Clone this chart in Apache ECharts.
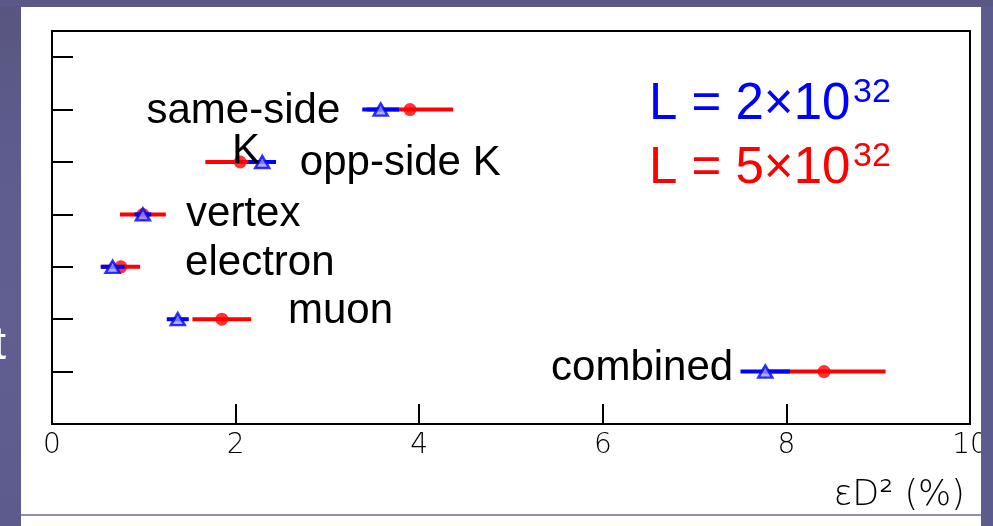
<!DOCTYPE html>
<html>
<head>
<meta charset="utf-8">
<script src="https://cdn.jsdelivr.net/npm/echarts@6/dist/echarts.min.js"></script>
<style>
  html, body { margin: 0; padding: 0; background: #5c5a8c; }
  #chart { width: 993px; height: 526px; }
</style>
</head>
<body>
<div id="chart"></div>
<script>
// Tagging methods, one row each (bottom to top)
const categories = ['combined', 'muon', 'electron', 'vertex', 'opp-side K', 'same-side K'];
const rowY = [1, 2, 3, 4, 5, 6];

// εD² (%) at L = 2×10^32 (blue) and L = 5×10^32 (red)
const lowLumiValue  = [7.77, 1.37, 0.66, 0.99, 2.29, 3.58];
const lowLumiError  = [0.27, 0.12, 0.13, 0.09, 0.15, 0.20];
const highLumiValue = [8.41, 1.85, 0.75, 0.99, 2.05, 3.90];
const highLumiError = [0.67, 0.32, 0.21, 0.25, 0.38, 0.47];

// Axis ticks
const xTicks = [0, 2, 4, 6, 8, 10];

// Method names written inside the frame, anchored in axis units
const noteText  = ['same-side', 'K', 'opp-side K', 'vertex', 'electron', 'muon', 'combined'];
const noteX     = [3.14, 1.96, 2.70, 1.46, 1.45, 2.57, 7.42];
const noteY     = [5.97, 5.21, 4.98, 4.00, 3.07, 2.15, 1.07];
const noteAlign = ['right', 'left', 'left', 'left', 'left', 'left', 'right'];

const BLUE = '#0000ff';
const RED = '#ff0000';
const FONT = '"Liberation Sans", Arial, sans-serif';

const chart = echarts.init(document.getElementById('chart'));

function errorBars(name, values, errors, color, z) {
  return {
    name: name,
    type: 'custom',
    z: z,
    silent: true,
    data: values.map((v, i) => [v - errors[i], v + errors[i], rowY[i]]),
    encode: { x: [0, 1], y: 2 },
    renderItem: function (params, api) {
      const a = api.coord([api.value(0), api.value(2)]);
      const b = api.coord([api.value(1), api.value(2)]);
      return {
        type: 'line',
        shape: { x1: a[0], y1: a[1], x2: b[0], y2: b[1] },
        style: { stroke: color, lineWidth: 4 }
      };
    }
  };
}

function markers(name, values, symbol, size, style, z) {
  return {
    name: name,
    type: 'scatter',
    z: z,
    silent: true,
    symbol: symbol,
    symbolSize: size,
    itemStyle: style,
    data: values.map((v, i) => [v, rowY[i]])
  };
}

const option = {
  animation: false,
  backgroundColor: 'transparent',
  grid: {
    left: 52, top: 31, right: 23, bottom: 102,
    show: true, borderColor: '#000', borderWidth: 2, backgroundColor: 'transparent'
  },
  xAxis: {
    type: 'value',
    min: xTicks[0], max: xTicks[xTicks.length - 1], interval: 2,
    name: 'εD² (%)',
    nameLocation: 'end',
    nameGap: -5,
    nameTextStyle: {
      fontFamily: '"DejaVu Sans", sans-serif', fontWeight: 200, fontSize: 35,
      color: '#000', align: 'right', verticalAlign: 'top', padding: [54, 0, 0, 0]
    },
    axisLine: { lineStyle: { color: '#000', width: 2 } },
    axisTick: { inside: true, length: 20, lineStyle: { color: '#000', width: 2 } },
    axisLabel: {
      margin: 8, fontFamily: '"DejaVu Sans", sans-serif', fontWeight: 200,
      fontSize: 28, color: '#000'
    },
    splitLine: { show: false }
  },
  yAxis: {
    type: 'value',
    min: 0, max: 7.5, interval: 1,
    axisLine: { lineStyle: { color: '#000', width: 2 } },
    axisTick: { inside: true, length: 21, lineStyle: { color: '#000', width: 2 } },
    axisLabel: { show: false },
    splitLine: { show: false }
  },
  series: [
    errorBars('L = 5×10^32 errors', highLumiValue, highLumiError, RED, 2),
    markers('L = 5×10^32', highLumiValue, 'circle', 13, { color: RED }, 3),
    errorBars('L = 2×10^32 errors', lowLumiValue, lowLumiError, BLUE, 4),
    markers('L = 2×10^32', lowLumiValue, 'triangle', [14, 12],
      { color: '#9a9aff', borderColor: BLUE, borderWidth: 2.5 }, 5),
    {
      name: 'method names',
      type: 'custom',
      z: 6,
      silent: true,
      data: noteText.map((t, i) => [noteX[i], noteY[i], i]),
      encode: { x: 0, y: 1 },
      renderItem: function (params, api) {
        const p = api.coord([api.value(0), api.value(1)]);
        const i = api.value(2);
        return {
          type: 'text',
          x: p[0], y: p[1],
          style: {
            text: noteText[i], fill: '#000',
            font: '42px ' + FONT,
            align: noteAlign[i], verticalAlign: 'middle'
          }
        };
      }
    }
  ],
  graphic: [
    // slide background and white panel
    { type: 'rect', z: -20, shape: { x: 0, y: 0, width: 993, height: 526 },
      style: { fill: new echarts.graphic.LinearGradient(0, 0, 0, 1, [
        { offset: 0, color: '#58567f' }, { offset: 0.3, color: '#5e5c8e' },
        { offset: 0.6, color: '#615f92' }, { offset: 1, color: '#5d5b8e' }]) } },
    { type: 'text', z: -19, x: 6, y: 346,
      style: { text: 't', fill: '#ffffff', font: '46px ' + FONT, align: 'right', verticalAlign: 'middle' } },
    { type: 'rect', z: -18, shape: { x: 21, y: 7, width: 960, height: 519 }, style: { fill: '#ffffff' } },
    { type: 'line', z: -17, shape: { x1: 21, y1: 515, x2: 981, y2: 515 },
      style: { stroke: '#6b6a9c', lineWidth: 1.5 } },
    // luminosity key
    { type: 'text', z: 10, x: 649, y: 105,
      style: { text: 'L = 2×10', fill: BLUE, font: '51px ' + FONT, verticalAlign: 'middle' } },
    { type: 'text', z: 10, x: 853, y: 93,
      style: { text: '32', fill: BLUE, font: '34px ' + FONT, verticalAlign: 'middle' } },
    { type: 'text', z: 10, x: 649, y: 169,
      style: { text: 'L = 5×10', fill: RED, font: '51px ' + FONT, verticalAlign: 'middle' } },
    { type: 'text', z: 10, x: 853, y: 157,
      style: { text: '32', fill: RED, font: '34px ' + FONT, verticalAlign: 'middle' } },
    // slide edge on the right
    { type: 'rect', z: 100, shape: { x: 981, y: 0, width: 12, height: 526 }, style: { fill: '#5d5b8d' } },
    { type: 'rect', z: 100, shape: { x: 0, y: 0, width: 993, height: 7 }, style: { fill: '#5a5886' } }
  ]
};

chart.setOption(option);
</script>
</body>
</html>
